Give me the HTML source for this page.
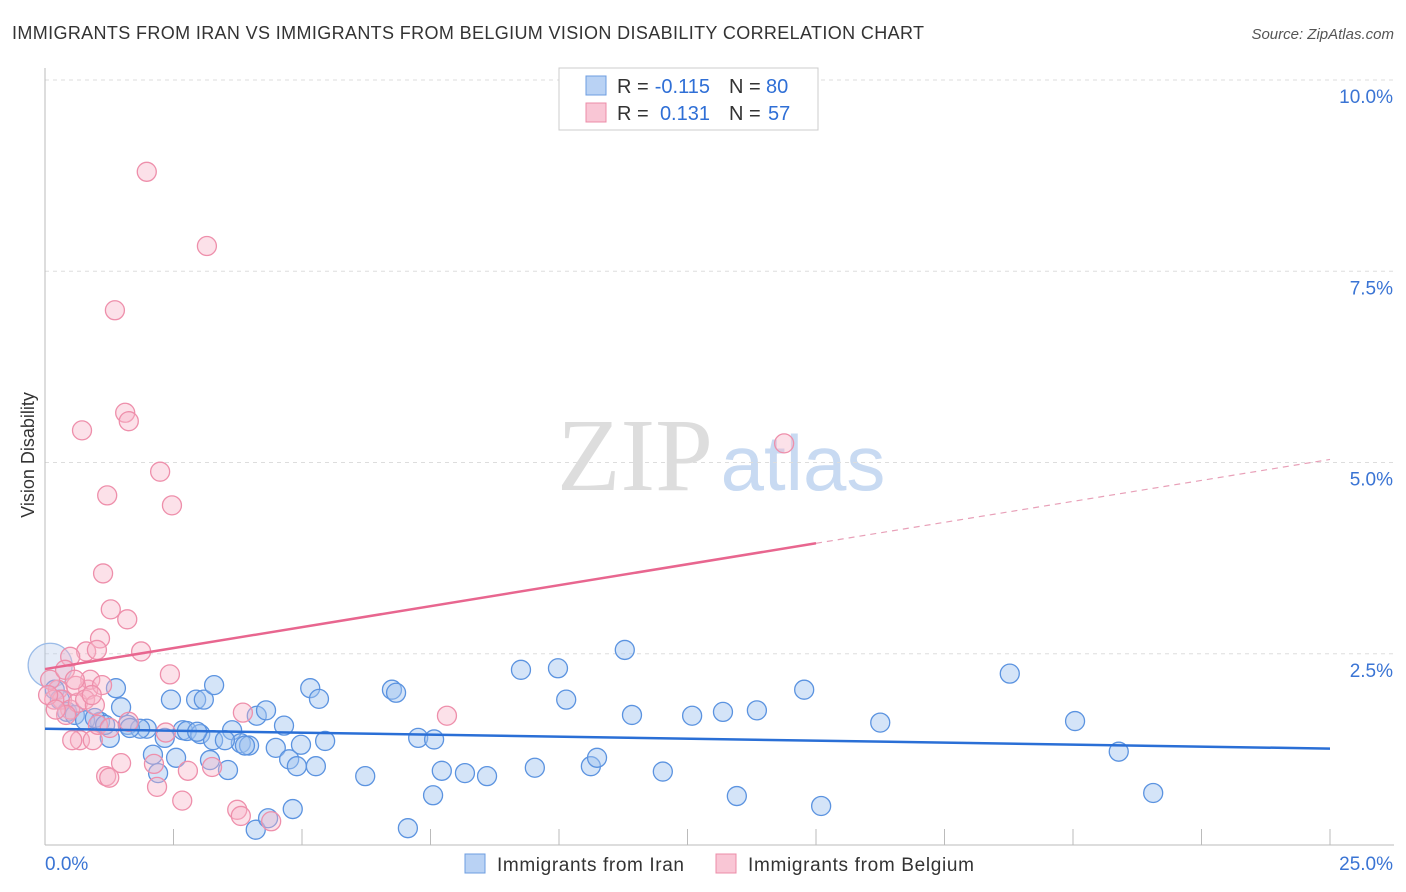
<!DOCTYPE html>
<html><head><meta charset="utf-8">
<style>
body{margin:0;background:#fff;font-family:"Liberation Sans",sans-serif;}
#wrap{position:relative;width:1406px;height:892px;overflow:hidden;}
</style></head>
<body>
<div id="wrap">
<svg id="chart" width="1406" height="892">
  <text x="12" y="39" font-size="18" fill="#333" textLength="912">IMMIGRANTS FROM IRAN VS IMMIGRANTS FROM BELGIUM VISION DISABILITY CORRELATION CHART</text>
  <text x="1394" y="39" font-size="15" fill="#555" font-style="italic" text-anchor="end">Source: ZipAtlas.com</text>
  <text transform="translate(34,455) rotate(-90)" font-size="18" fill="#333" text-anchor="middle">Vision Disability</text>
  <g>
    <text x="635" y="490" font-size="104" fill="#ddd" font-family="Liberation Serif,serif" text-anchor="middle">ZIP</text>
    <text x="803" y="490" font-size="78" fill="#c8daf2" text-anchor="middle">atlas</text>
  </g>
  <g id="grid"></g><g id="axes"></g><g id="pts"></g><g id="trend"></g>
  <g>
    <rect x="559" y="68" width="259" height="62" fill="#fff" stroke="#ccc"/>
    <rect x="586" y="76" width="20" height="19" fill="#b9d2f4" stroke="#6d9de0"/>
    <rect x="586" y="103" width="20" height="19" fill="#f9c6d5" stroke="#ec8ca8"/>
    <text x="617" y="93" font-size="20" fill="#333">R =</text>
    <text x="710" y="93" font-size="20" fill="#2f6fd6" text-anchor="end">-0.115</text>
    <text x="729" y="93" font-size="20" fill="#333">N =</text>
    <text x="766" y="93" font-size="20" fill="#2f6fd6">80</text>
    <text x="617" y="120" font-size="20" fill="#333">R =</text>
    <text x="710" y="120" font-size="20" fill="#2f6fd6" text-anchor="end">0.131</text>
    <text x="729" y="120" font-size="20" fill="#333">N =</text>
    <text x="768" y="120" font-size="20" fill="#2f6fd6">57</text>
  </g>
  <g>
    <rect x="465" y="854" width="20" height="19" fill="#b9d2f4" stroke="#6d9de0"/>
    <text x="497" y="871" font-size="19" fill="#333" textLength="187">Immigrants from Iran</text>
    <rect x="716" y="854" width="20" height="19" fill="#f9c6d5" stroke="#ec8ca8"/>
    <text x="748" y="871" font-size="19" fill="#333" textLength="226">Immigrants from Belgium</text>
  </g>
</svg>
</div>
<script>
const yTicks=[2.5,5,7.5,10];
const yTickLabels=["2.5%","5.0%","7.5%","10.0%"];
const xTickLabels=["0.0%","25.0%"];
const iranX=[1.38,1.48,1.07,1.26,1.61,1.98,1.85,2.10,2.20,2.45,2.55,2.68,2.94,3.09,2.76,3.02,3.29,3.21,3.56,3.64,3.81,3.97,4.12,4.30,4.49,4.65,4.75,4.90,4.98,5.16,5.27,5.33,5.45,6.23,6.75,6.83,7.26,7.57,7.55,7.06,7.72,8.17,8.60,9.26,9.53,9.98,10.14,10.62,10.74,11.28,11.42,12.02,12.59,13.19,13.46,13.85,14.77,15.10,16.25,18.77,20.04,20.89,21.56,4.10,4.34,4.82,0.10,0.19,0.29,0.43,0.58,0.78,0.97,1.17,1.65,2.33,3.27,3.50,3.89,2.96];
const iranY=[2.05,1.80,1.61,1.40,1.57,1.52,1.52,1.18,0.94,1.90,1.14,1.50,1.90,1.90,1.49,1.45,2.09,1.11,0.98,1.50,1.33,1.30,1.69,1.76,1.27,1.56,1.12,1.03,1.31,2.05,1.03,1.91,1.36,0.90,2.03,1.99,1.40,1.38,0.65,0.22,0.97,0.94,0.90,2.29,1.01,2.31,1.90,1.03,1.14,2.55,1.70,0.96,1.69,1.74,0.64,1.76,2.03,0.51,1.60,2.24,1.62,1.22,0.68,0.20,0.35,0.47,2.35,2.03,1.90,1.74,1.70,1.63,1.66,1.57,1.53,1.40,1.37,1.37,1.30,1.48];
const belX=[1.98,3.15,1.36,1.56,1.63,0.72,2.24,1.21,2.47,1.13,1.28,1.60,1.07,0.80,1.01,1.87,2.43,0.49,0.25,0.33,0.49,0.64,0.84,0.88,0.60,0.41,0.68,0.93,1.19,1.25,1.48,2.18,2.12,2.67,2.78,3.25,3.74,3.81,4.40,3.85,1.63,2.35,7.82,14.38,0.10,0.18,0.53,0.78,0.97,1.11,0.06,0.39,1.03,0.58,0.91,0.21,1.26];
const belY=[8.80,7.83,6.99,5.65,5.54,5.42,4.88,4.57,4.44,3.55,3.08,2.95,2.70,2.53,2.55,2.53,2.23,2.46,2.03,1.90,1.77,1.86,2.03,2.16,2.08,1.70,1.37,1.37,0.90,0.88,1.07,0.76,1.06,0.58,0.97,1.02,0.46,0.38,0.31,1.73,1.61,1.47,1.69,5.25,2.16,1.90,1.37,1.90,1.83,2.09,1.96,2.29,1.57,2.16,1.96,1.77,1.53];
const iranTrend=[1.52,1.26];
const belTrend=[2.30,5.04];
const X0=45,X1=1330,Y0=845,Y1=80;
const xs=v=>X0+v/25*(X1-X0);
const ys=v=>Y0-v/10*(Y0-Y1);
const NS="http://www.w3.org/2000/svg";
function mk(tag,attrs,parent){const e=document.createElementNS(NS,tag);for(const k in attrs)e.setAttribute(k,attrs[k]);document.getElementById(parent).appendChild(e);return e;}
yTicks.forEach((t,i)=>{
  const l=mk('line',{x1:X0,x2:1394,y1:ys(t),y2:ys(t),stroke:'#ddd','stroke-dasharray':'4,4'},'grid');
  
  
  const tx=mk('text',{x:1393,y:ys(t)+23,'font-size':19,fill:'#3a74d4','text-anchor':'end'},'axes');
  tx.textContent=yTickLabels[i];
  
  
});
const ax=mk('line',{x1:X0,x2:X0,y1:68,y2:Y0,stroke:'#bbb'},'axes');


const bx=mk('line',{x1:X0,x2:1394,y1:Y0,y2:Y0,stroke:'#bbb'},'axes');


for(let i=1;i<=10;i++){const t=mk('line',{x1:xs(i*2.5),x2:xs(i*2.5),y1:Y0,y2:Y0-16,stroke:'#bbb'},'axes');
  
  }
const xl0=mk('text',{x:45,y:870,'font-size':19,fill:'#3a74d4'},'axes');xl0.textContent=xTickLabels[0];


const xl1=mk('text',{x:1393,y:870,'font-size':19,fill:'#3a74d4','text-anchor':'end'},'axes');xl1.textContent=xTickLabels[1];


iranX.forEach((x,i)=>{const big=i==66;const c=mk('circle',{cx:xs(x),cy:ys(iranY[i]),r:big?22:9.5,fill:big?'rgba(180,200,235,0.35)':'rgba(160,196,240,0.45)',stroke:big?'#9bbce8':'#5b93e0','stroke-width':1.3},'pts');
  
  });
belX.forEach((x,i)=>{const c=mk('circle',{cx:xs(x),cy:ys(belY[i]),r:9.5,fill:'rgba(248,180,200,0.4)',stroke:'#ee8fab','stroke-width':1.3},'pts');
  
  });
const tb=mk('line',{x1:xs(0),y1:ys(iranTrend[0]),x2:xs(25),y2:ys(iranTrend[1]),stroke:'#2a6fd6','stroke-width':2.5},'trend');


const pm=v=>belTrend[0]+(belTrend[1]-belTrend[0])*v/25;
const tp=mk('line',{x1:xs(0),y1:ys(pm(0)),x2:xs(15),y2:ys(pm(15)),stroke:'#e8668f','stroke-width':2.5},'trend');


const td=mk('line',{x1:xs(15),y1:ys(pm(15)),x2:xs(25),y2:ys(pm(25)),stroke:'#e8a0b8','stroke-width':1.2,'stroke-dasharray':'6,5'},'trend');


</script>
</body></html>
